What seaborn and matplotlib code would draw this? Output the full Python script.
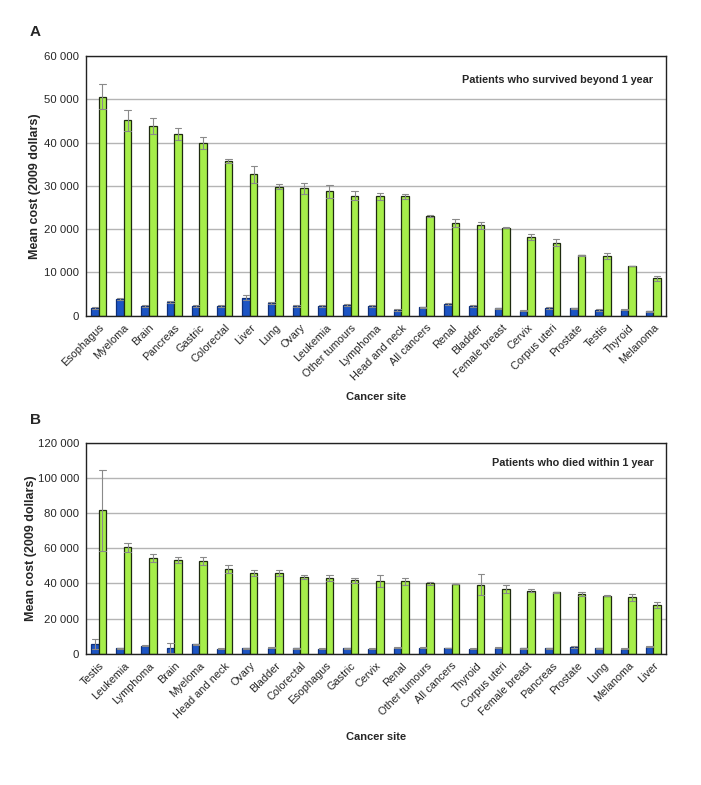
"""
Mean cost by cancer site, two panels (survived beyond 1 year / died within 1 year)
"""

import matplotlib
matplotlib.use('Agg')
import matplotlib.pyplot as plt
from matplotlib.ticker import FuncFormatter
import numpy as np
import pandas as pd
import seaborn as sns

# panel A: patients who survived beyond 1 year
sites_a = ['Esophagus', 'Myeloma', 'Brain', 'Pancreas', 'Gastric', 'Colorectal', 'Liver',
           'Lung', 'Ovary', 'Leukemia', 'Other tumours', 'Lymphoma', 'Head and neck',
           'All cancers', 'Renal', 'Bladder', 'Female breast', 'Cervix', 'Corpus uteri',
           'Prostate', 'Testis', 'Thyroid', 'Melanoma']
blue_a = [1800, 3900, 2300, 3200, 2300, 2300, 4200, 2900, 2200, 2300, 2500, 2300, 1300,
          2000, 2700, 2200, 1700, 1200, 1800, 1700, 1300, 1400, 1000]
blue_a_err = [200, 200, 200, 200, 200, 200, 600, 200, 200, 200, 200, 200, 200,
              100, 200, 200, 100, 100, 200, 100, 200, 100, 100]
green_a = [50600, 45100, 43800, 41900, 39800, 35700, 32700, 29800, 29400, 28700, 27700,
           27600, 27600, 23100, 21400, 20900, 20300, 18100, 16900, 14000, 13800, 11500, 8600]
green_a_err = [2900, 2400, 1800, 1400, 1400, 400, 2000, 600, 1300, 1600, 1000, 800, 600,
               200, 900, 800, 100, 700, 800, 100, 800, 100, 600]

# panel B: patients who died within 1 year
sites_b = ['Testis', 'Leukemia', 'Lymphoma', 'Brain', 'Myeloma', 'Head and neck', 'Ovary',
           'Bladder', 'Colorectal', 'Esophagus', 'Gastric', 'Cervix', 'Renal',
           'Other tumours', 'All cancers', 'Thyroid', 'Corpus uteri', 'Female breast',
           'Pancreas', 'Prostate', 'Lung', 'Melanoma', 'Liver']
blue_b = [5300, 3000, 4400, 3400, 5300, 2700, 3000, 3400, 3000, 2700, 3000, 2700, 3400,
          3400, 3200, 2700, 3400, 3000, 3200, 3800, 3200, 2700, 4000]
blue_b_err = [2900, 300, 300, 2900, 300, 300, 300, 300, 300, 300, 300, 300, 300,
              300, 100, 300, 300, 300, 300, 300, 300, 300, 300]
green_b = [81600, 60600, 54400, 53400, 52700, 48300, 46100, 46100, 43700, 43000, 41800,
           41400, 41300, 40100, 39700, 39200, 36700, 35900, 35000, 33800, 33100, 32100, 27600]
green_b_err = [23000, 2700, 2400, 1500, 2400, 2100, 1800, 1700, 1000, 1700, 1500, 3300,
               2000, 1000, 200, 6000, 2300, 800, 200, 1200, 200, 1900, 1700]

groups = ['Group 1', 'Group 2']
colors = ['#1c54c4', '#a6ee4a']
edges = ['#0d2f7a', '#1e2a10']


def long_table(sites, blue, blue_err, green, green_err):
    # three rows per bar: low, mean, high -> median gives the mean, pi 100 gives the range
    rows = []
    for s, b, be, g, ge in zip(sites, blue, blue_err, green, green_err):
        for v in (b - be, b, b + be):
            rows.append((s, groups[0], v))
        for v in (g - ge, g, g + ge):
            rows.append((s, groups[1], v))
    return pd.DataFrame(rows, columns=['site', 'group', 'cost'])


def panel(ax, df, sites, ymax, ystep, note, label_x, xlabel_y):
    sns.barplot(data=df, x='site', y='cost', hue='group', order=sites, hue_order=groups,
                palette=colors, saturation=1, estimator='median', errorbar=('pi', 100),
                capsize=0.5, err_kws={'color': '#8a8a8a', 'linewidth': 0.8}, width=0.6,
                gap=0, linewidth=0.9, legend=False, ax=ax)
    for cont, ec in zip(ax.containers, edges):
        for p in cont:
            p.set_edgecolor(ec)
    ax.set_xlim(-0.5, len(sites) - 0.5)
    ax.set_ylim(0, ymax)
    ax.set_yticks(np.arange(0, ymax + 1, ystep))
    ax.yaxis.set_major_formatter(FuncFormatter(lambda v, pos: f'{int(v):,}'.replace(',', ' ')))
    ax.grid(axis='y', color='#b4b4b4', linewidth=1.0)
    ax.set_axisbelow(True)
    ax.set_xticks(np.arange(len(sites)))
    ax.set_xticklabels(sites, rotation=45, ha='right', rotation_mode='anchor', fontsize=7.8)
    ax.set_xticks(np.arange(-0.5, len(sites)), minor=True)
    ax.tick_params(axis='x', which='major', length=0, pad=5)
    ax.tick_params(axis='x', which='minor', length=4, color='#999999', direction='out')
    ax.tick_params(axis='y', length=3, pad=2, labelsize=8.2, color='#333333')
    for sp in ax.spines.values():
        sp.set_visible(True)
        sp.set_color('#222222')
        sp.set_linewidth(1.0)
    ax.set_ylabel('Mean cost (2009 dollars)', fontsize=9, fontweight='bold')
    ax.yaxis.set_label_coords(label_x, 0.5)
    ax.set_xlabel('Cancer site', fontsize=8, fontweight='bold')
    ax.xaxis.set_label_coords(0.5, xlabel_y)
    ax.text(0.978, 0.907, note, transform=ax.transAxes, ha='right', va='center',
            fontsize=7.8, fontweight='bold')


sns.set_style('white')
plt.rcParams['font.family'] = ['Liberation Sans', 'DejaVu Sans']

fig = plt.figure(figsize=(7.01, 7.85), dpi=100)
ax_a = fig.add_axes([0.1227, 0.5978, 0.8274, 0.3309])
ax_b = fig.add_axes([0.1227, 0.1673, 0.8274, 0.2684])

panel(ax_a, long_table(sites_a, blue_a, blue_a_err, green_a, green_a_err), sites_a,
      60000, 10000, 'Patients who survived beyond 1 year', -0.078, -0.294)
panel(ax_b, long_table(sites_b, blue_b, blue_b_err, green_b, green_b_err), sites_b,
      120000, 20000, 'Patients who died within 1 year', -0.084, -0.372)

fig.text(30 / 701, 1 - 32 / 785, 'A', fontsize=11, fontweight='bold', va='center')
fig.text(30 / 701, 1 - 420 / 785, 'B', fontsize=11, fontweight='bold', va='center')

fig.savefig('out.png', dpi=100)
